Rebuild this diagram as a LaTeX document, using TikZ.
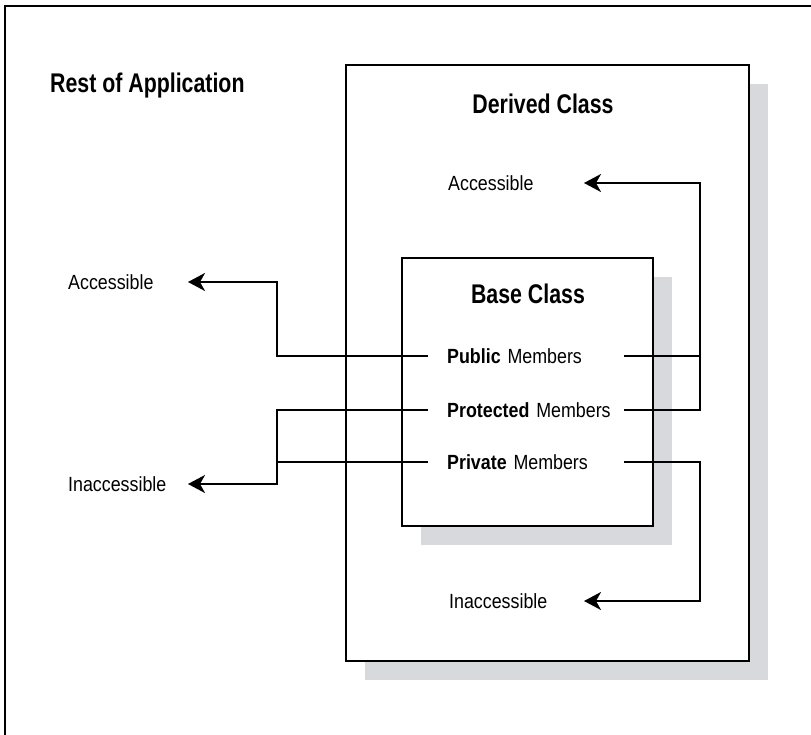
\documentclass[tikz,border=0pt]{standalone}
\usepackage{fontspec}
\newfontfamily\headfont{Liberation Sans}[FakeStretch=0.79]
\newfontfamily\bodyfont{Liberation Sans}[FakeStretch=0.87]
\usetikzlibrary{arrows.meta}
\usetikzlibrary{shadows}
\definecolor{shadowgray}{RGB}{216,217,220}

\begin{document}
\begin{tikzpicture}[x=1pt, y=-1pt,
  frame/.style={line width=2pt},
  classbox/.style={draw, line width=2pt, fill=white, inner sep=0pt,
    drop shadow={shadow xshift=19pt, shadow yshift=-19pt, opacity=1, fill=shadowgray}},
  heading/.style={font=\headfont\bfseries\fontsize{27}{32}\selectfont, inner sep=0pt},
  note/.style={font=\bodyfont\fontsize{20.5}{24}\selectfont, inner sep=0pt, anchor=base west},
  member/.style={font=\bodyfont\fontsize{20.5}{24}\selectfont, anchor=west,
    inner sep=0pt, text width=158pt, minimum width=196pt, align=left,
    text height=14.7pt, text depth=0pt},
  wire/.style={line width=2pt},
  flow/.style={wire, -{Stealth[length=17pt, width=18pt, inset=5pt]}}
]

\useasboundingbox (0,0) rectangle (811,734);
\draw[frame] (5,745) -- (5,6) -- (820,6);

% class boxes
\node[classbox, minimum width=403pt, minimum height=596pt] (derived) at (547.5,363) {};
\node[classbox, minimum width=251pt, minimum height=268pt] (base) at (527.5,392) {};

\node[heading, anchor=base west] (rest) at (50,92) {Rest of Application};
\node[heading, anchor=base] (dtitle) at (543,113) {Derived Class};
\node[heading, anchor=base] (btitle) at (528,303) {Base Class};

\foreach \name/\kind/\y in {pub/Public/356, prot/Protected/410, priv/Private/462} {
 \node[member] (\name) at (428,\y) {\mbox{\textbf{\kind} Members}};
};

\node[note] (accout) at (68,289) {Accessible};
\node[note] (inaccout) at (68,491) {Inaccessible};
\node[note] (accin) at (448,190) {Accessible};
\node[note] (inaccin) at (449,608) {Inaccessible};

\coordinate (accoutTip) at (188,282);
\coordinate (inaccoutTip) at (188,484);
\coordinate (accinTip) at (584,183);
\coordinate (inaccinTip) at (584,601);

% to the rest of the application
\draw[flow] (pub.west) -- ++(-151,0) |- (accoutTip);
\draw[flow] (prot.west) -- ++(-151,0) |- (inaccoutTip);
\draw[wire] (priv.west) -- ++(-151,0);

% to the derived class
\draw[wire] (pub.east) -- ++(76,0);
\draw[flow] (prot.east) -- ++(76,0) |- (accinTip);
\draw[flow] (priv.east) -- ++(76,0) |- (inaccinTip);

\end{tikzpicture}
\end{document}
